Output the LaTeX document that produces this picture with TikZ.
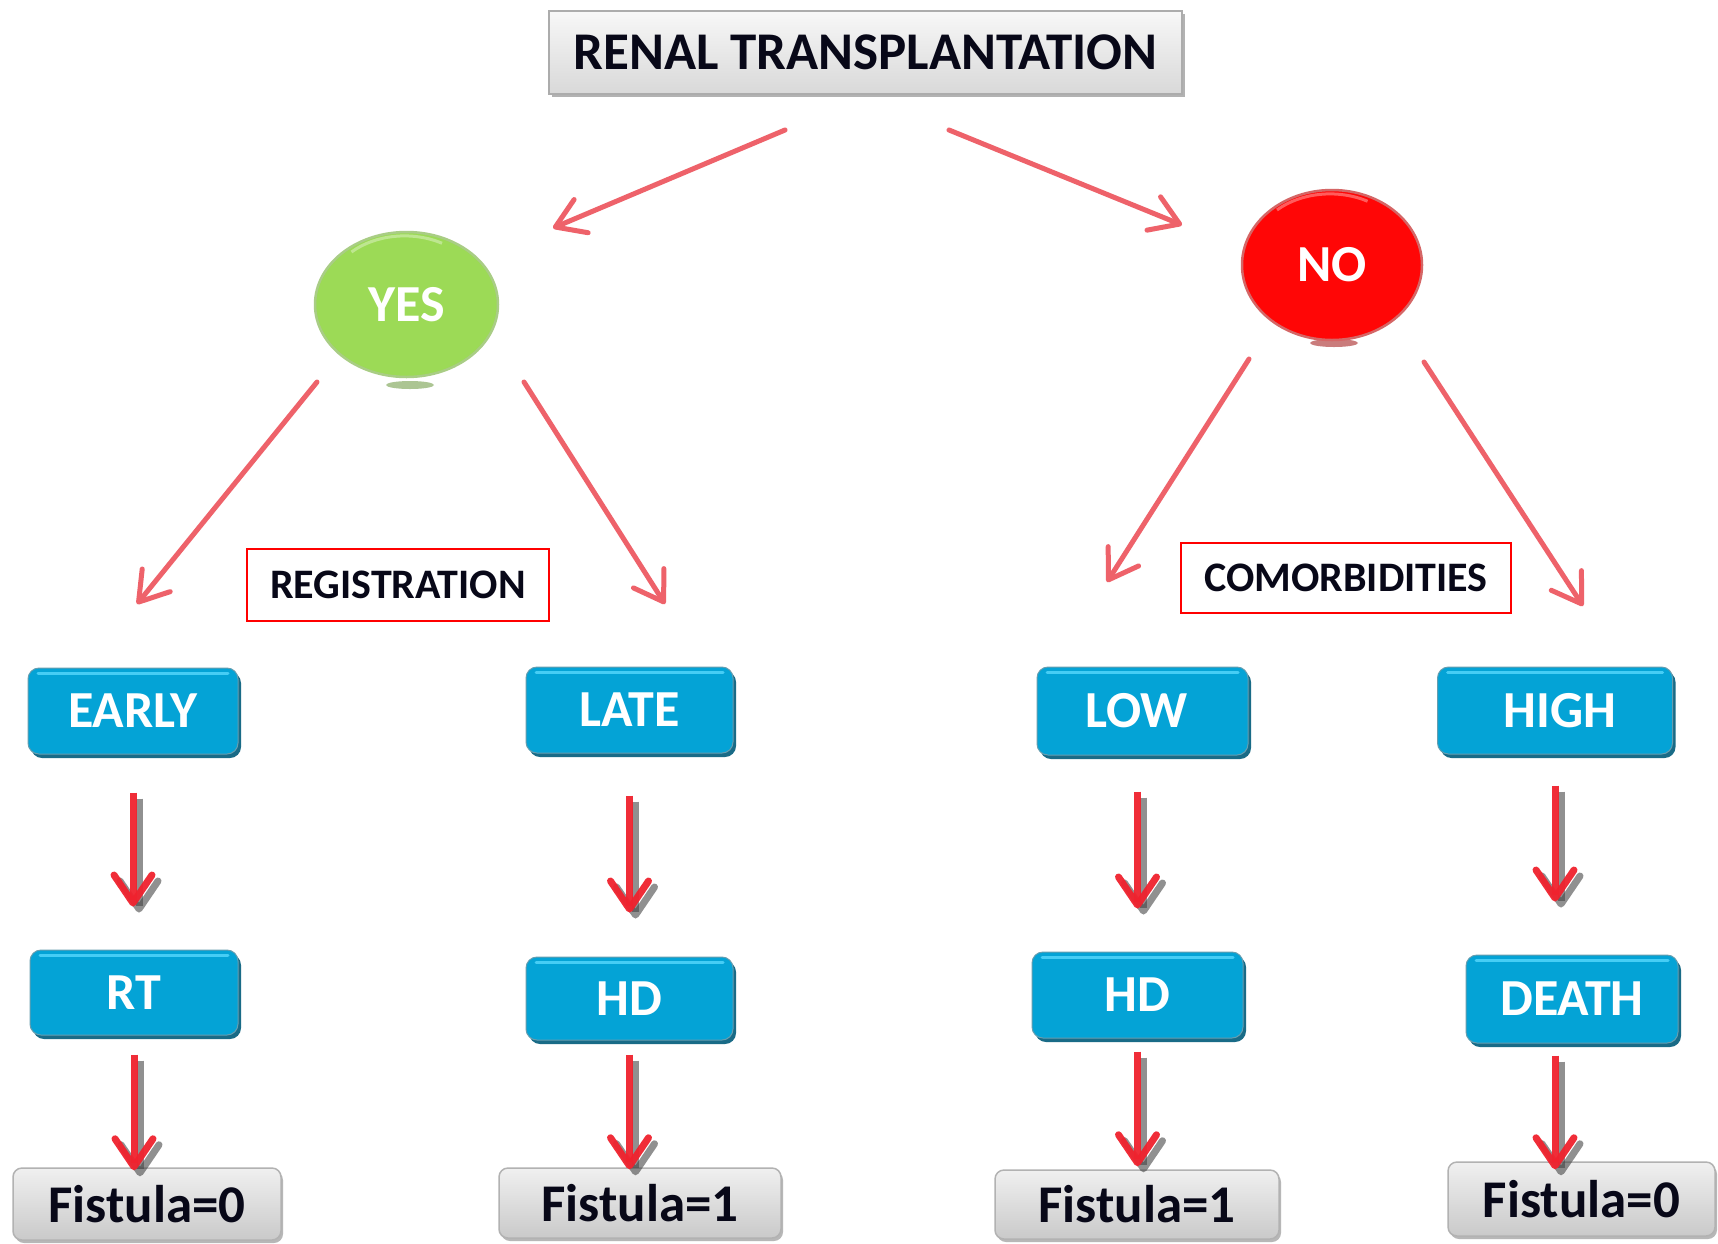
\documentclass[tikz,border=0pt]{standalone}
\usepackage{fontspec}
\setmainfont{Carlito}
\usetikzlibrary{arrows.meta,shapes.geometric,shadows,calc}

\definecolor{inkdark}{RGB}{8,8,24}
\definecolor{boxblue}{RGB}{4,163,214}
\definecolor{boxbluedark}{RGB}{0,92,122}
\definecolor{boxbluelight}{RGB}{70,205,245}
\definecolor{yesgreen}{RGB}{156,218,86}
\definecolor{yesgreendark}{RGB}{112,172,52}
\definecolor{nored}{RGB}{255,6,6}
\definecolor{noreddark}{RGB}{185,0,0}
\definecolor{salmon}{RGB}{238,98,106}
\definecolor{arrowred}{RGB}{240,34,46}
\definecolor{framered}{RGB}{255,0,0}

\tikzset{
  % blue category boxes
  bluebox/.style={rounded corners=11pt, fill=boxblue, draw=boxbluedark!60, line width=1pt,
    text=white, font=\fontsize{52}{56}\selectfont\bfseries, inner sep=0pt,
    drop shadow={shadow xshift=3pt, shadow yshift=-4pt, fill=boxbluedark, opacity=0.9},
    path picture={\draw[boxbluelight, line width=3pt, line cap=round]
      ([xshift=10pt,yshift=-5pt]path picture bounding box.north west) --
      ([xshift=-10pt,yshift=-5pt]path picture bounding box.north east);}},
  % grey result boxes
  graybox/.style={rounded corners=9pt, top color=gray!12, bottom color=gray!42,
    draw=gray!60, line width=1.5pt, text=inkdark, inner sep=0pt,
    font=\fontsize{53}{57}\selectfont\bfseries,
    drop shadow={shadow xshift=2pt, shadow yshift=-3pt, fill=gray!70, opacity=0.8}},
  titlebox/.style={top color=gray!6, bottom color=gray!30, draw=gray!65, line width=2pt,
    text=inkdark, inner sep=0pt, font=\fontsize{53}{57}\selectfont\bfseries,
    drop shadow={shadow xshift=3pt, shadow yshift=-3pt, fill=gray!75, opacity=0.8}},
  % red-framed group labels
  framelabel/.style={draw=framered, line width=2pt, fill=white, text=inkdark,
    inner sep=0pt, font=\fontsize{42}{46}\selectfont\bfseries},
  % YES / NO discs
  disc/.style={ellipse, inner sep=0pt, text=white, line width=2.5pt,
    font=\fontsize{52}{56}\selectfont\bfseries,
    path picture={\draw[white, opacity=0.35, line width=3pt]
      ([xshift=-55pt,yshift=-20pt]path picture bounding box.north) arc[start angle=135, end angle=60, x radius=75pt, y radius=55pt];}},
  % thin salmon branch arrows
  branch/.style={draw=salmon, line width=5pt, line cap=round,
    -{Straight Barb[length=28pt, width=36pt, round]}},
  % thick red step arrows and their grey shadows
  steparrow/.style={draw=arrowred, opacity=0.95, line width=7pt,
    -{Straight Barb[length=28pt, width=38pt, round]}},
  stepshadow/.style={draw=gray!55!black, opacity=0.6, line width=7pt,
    -{Straight Barb[length=28pt, width=38pt, round]}}
}

% a step arrow from node #1 down to node #2 with its shadow;
% #3, #4: gaps at the start and at the tip
\newcommand\steplink[4]{%
  \draw[stepshadow, shorten <=#3, shorten >=#4, transform canvas={xshift=6pt, yshift=-6pt}]
    (#1) -- (#1 |- #2);
  \draw[steparrow, shorten <=#3, shorten >=#4] (#1) -- (#1 |- #2);}

\begin{document}
\begin{tikzpicture}[x=1pt, y=-1pt]
\useasboundingbox[fill=white] (0,0) rectangle (1718,1243);

% top question
\node[titlebox, minimum width=633pt, minimum height=83pt] (title) at (865.5,52.5) {RENAL TRANSPLANTATION};

% YES / NO with small ground shadows
\fill[yesgreendark!70!gray, opacity=0.6] (410,385) ellipse [x radius=24, y radius=4];
\node[disc, fill=yesgreen, draw=yesgreendark!60, minimum width=183pt, minimum height=145pt] (yes) at (406.5,304.5) {YES};
\fill[noreddark!70!gray, opacity=0.6] (1334,343) ellipse [x radius=24, y radius=4];
\node[disc, fill=nored, draw=noreddark!60, minimum width=180pt, minimum height=150pt] (no) at (1332,265) {NO};

% group labels
\node[framelabel, minimum width=302pt, minimum height=72pt] (reg) at (398,585) {REGISTRATION};
\node[framelabel, minimum width=330pt, minimum height=70pt] (com) at (1346,578) {COMORBIDITIES};

% second level
\node[bluebox, minimum width=210pt, minimum height=86pt] (early) at (133,711) {EARLY};
\node[bluebox, minimum width=207pt, minimum height=86pt] (late) at (629.5,710) {LATE};
\node[bluebox, minimum width=211pt, minimum height=88pt] (low) at (1142.5,711) {\hspace*{-12pt}LOW};
\node[bluebox, minimum width=235pt, minimum height=87pt] (high) at (1555,710.5) {\hspace*{10pt}HIGH};

% third level
\node[bluebox, minimum width=208pt, minimum height=85pt] (rt) at (134,992.5) {RT};
\node[bluebox, minimum width=207pt, minimum height=83pt] (hdyes) at (629.5,998.5) {HD};
\node[bluebox, minimum width=211pt, minimum height=86pt] (hdno) at (1137.5,995) {HD};
\node[bluebox, minimum width=212pt, minimum height=88pt] (death) at (1572,999) {DEATH};

% outcomes
\node[graybox, minimum width=268pt, minimum height=72pt] (f1) at (147,1204) {Fistula=0};
\node[graybox, minimum width=282pt, minimum height=70pt] (f2) at (640,1203) {Fistula=1};
\node[graybox, minimum width=284pt, minimum height=69pt] (f3) at (1137,1204.5) {Fistula=1};
\node[graybox, minimum width=267pt, minimum height=74pt] (f4) at (1581.5,1199) {Fistula=0};

% branch arrow end points
\coordinate (tl-s) at (785,130);  \coordinate (tl-e) at (553,228);
\coordinate (tr-s) at (949,130);  \coordinate (tr-e) at (1182,225);
\coordinate (yl-s) at (317,382);  \coordinate (yl-e) at (137,604);
\coordinate (yr-s) at (524,382);  \coordinate (yr-e) at (665,604);
\coordinate (nl-s) at (1249,359); \coordinate (nl-e) at (1107,582);
\coordinate (nr-s) at (1424,362); \coordinate (nr-e) at (1583,606);

\draw[branch] (tl-s) -- (tl-e);
\draw[branch] (tr-s) -- (tr-e);
\draw[branch] (yl-s) -- (yl-e);
\draw[branch] (yr-s) -- (yr-e);
\draw[branch] (nl-s) -- (nl-e);
\draw[branch] (nr-s) -- (nr-e);

% step arrows
\coordinate (low-foot) at (hdno.north |- low.south);
\coordinate (death-foot) at (high.south |- death.south);
\steplink{early.south}{rt.north}{38pt}{43pt}
\steplink{rt.south}{f1.north}{19pt}{-3pt}
\steplink{late.south}{hdyes.north}{42pt}{44pt}
\steplink{hdyes.south}{f2.north}{14pt}{-2pt}
\steplink{low-foot}{hdno.north}{36pt}{43pt}
\steplink{hdno.south}{f3.north}{13pt}{3pt}
\steplink{high.south}{death.north}{31pt}{53pt}
\steplink{death-foot}{f4.north}{12pt}{-8pt}
\end{tikzpicture}
\end{document}
